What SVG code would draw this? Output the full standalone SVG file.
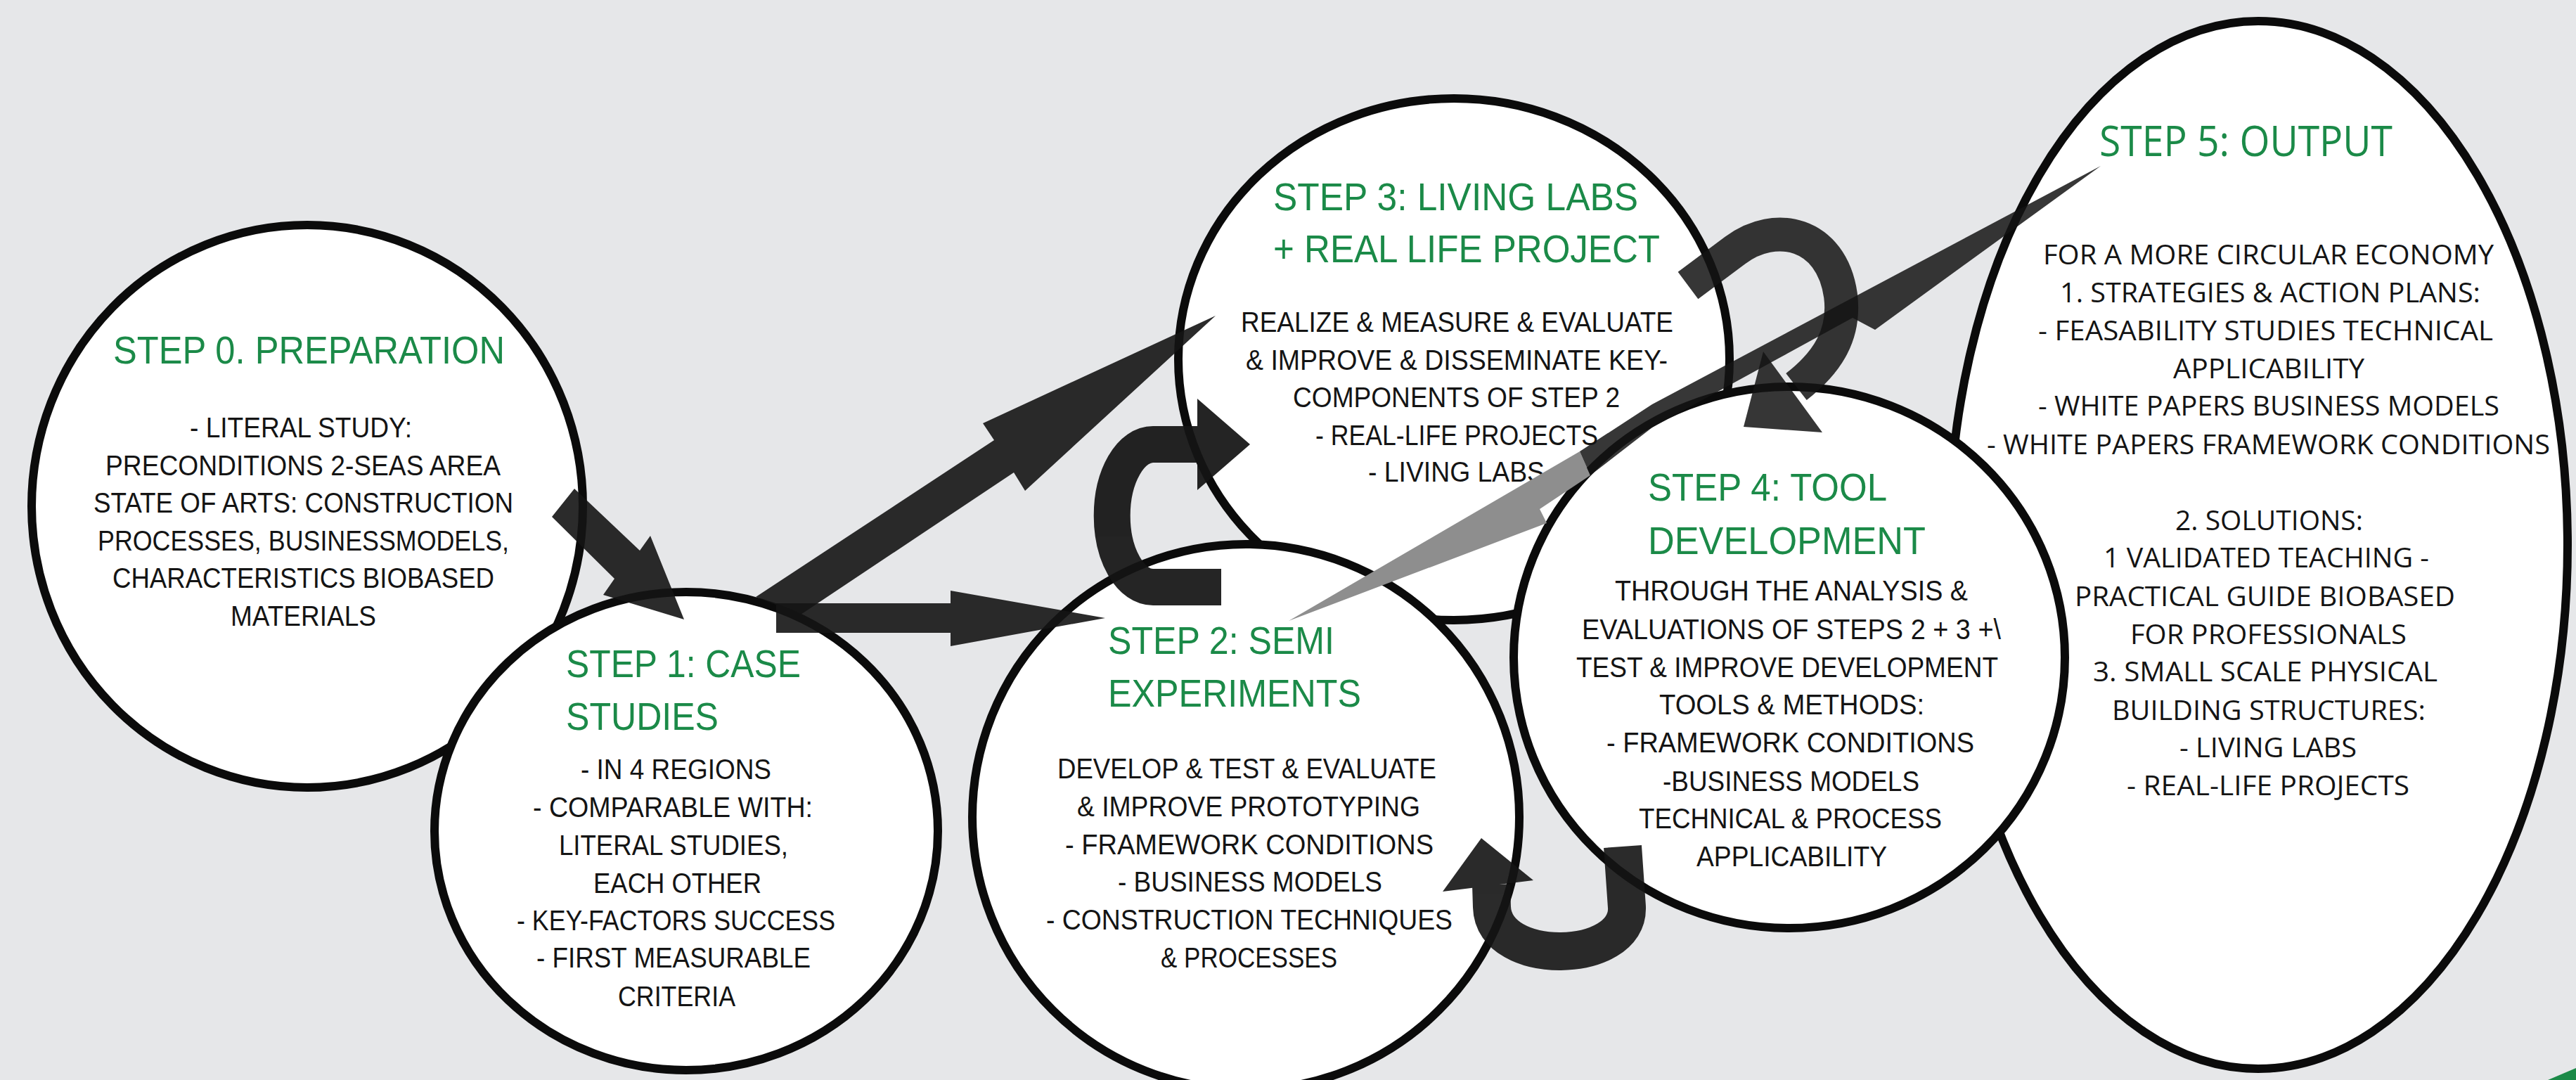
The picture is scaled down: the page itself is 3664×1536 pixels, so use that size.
<svg xmlns="http://www.w3.org/2000/svg" width="3664" height="1536" viewBox="0 0 3664 1536">
<style>
.node{fill:#ffffff;stroke:#0b0b0b;stroke-width:12}
.t{font-family:'Liberation Sans',Arial,sans-serif;fill:#1b8a48;font-size:55px}
.b{font-family:'Liberation Sans',Arial,sans-serif;fill:#141414;font-size:40px}
.t5{font-family:'Open Sans','Liberation Sans',sans-serif;fill:#1b8a48;font-size:60px}
.b5{font-family:'Open Sans','Liberation Sans',sans-serif;fill:#141414;font-size:39px}
.a{fill:#141414}
.as{fill:none;stroke:#141414}
</style>
<rect width="3664" height="1536" fill="#e6e7e9"/>
<polygon points="3624,1536 3664,1519 3664,1536" fill="#1b8a48"/>

<g id="step0">
<ellipse class="node" cx="437" cy="720" rx="392" ry="400"/>
<text class="t" x="161" y="517" textLength="557" lengthAdjust="spacingAndGlyphs">STEP 0. PREPARATION</text>
<text class="b" x="270" y="622" textLength="316" lengthAdjust="spacingAndGlyphs">- LITERAL STUDY:</text>
<text class="b" x="150" y="676" textLength="562" lengthAdjust="spacingAndGlyphs">PRECONDITIONS 2-SEAS AREA</text>
<text class="b" x="133" y="729" textLength="597" lengthAdjust="spacingAndGlyphs">STATE OF ARTS: CONSTRUCTION</text>
<text class="b" x="139" y="783" textLength="585" lengthAdjust="spacingAndGlyphs">PROCESSES, BUSINESSMODELS,</text>
<text class="b" x="160" y="836" textLength="543" lengthAdjust="spacingAndGlyphs">CHARACTERISTICS BIOBASED</text>
<text class="b" x="328" y="890" textLength="207" lengthAdjust="spacingAndGlyphs">MATERIALS</text>
</g>

<g id="step1">
<ellipse class="node" cx="976" cy="1182" rx="358" ry="340"/>
<text class="t" x="805" y="963" textLength="334" lengthAdjust="spacingAndGlyphs">STEP 1: CASE</text>
<text class="t" x="805" y="1038" textLength="217" lengthAdjust="spacingAndGlyphs">STUDIES</text>
<text class="b" x="826" y="1108" textLength="271" lengthAdjust="spacingAndGlyphs">- IN 4 REGIONS</text>
<text class="b" x="758" y="1162" textLength="398" lengthAdjust="spacingAndGlyphs">- COMPARABLE WITH:</text>
<text class="b" x="795" y="1216" textLength="326" lengthAdjust="spacingAndGlyphs">LITERAL STUDIES,</text>
<text class="b" x="844" y="1270" textLength="239" lengthAdjust="spacingAndGlyphs">EACH OTHER</text>
<text class="b" x="735" y="1323" textLength="453" lengthAdjust="spacingAndGlyphs">- KEY-FACTORS SUCCESS</text>
<text class="b" x="763" y="1376" textLength="390" lengthAdjust="spacingAndGlyphs">- FIRST MEASURABLE</text>
<text class="b" x="879" y="1431" textLength="167" lengthAdjust="spacingAndGlyphs">CRITERIA</text>
</g>

<g id="step5">
<ellipse class="node" cx="3212" cy="775" rx="440" ry="745"/>
<text class="t5" x="2986" y="222" textLength="417" lengthAdjust="spacingAndGlyphs">STEP 5: OUTPUT</text>
<text class="b5" x="2906" y="376" textLength="641" lengthAdjust="spacingAndGlyphs">FOR A MORE CIRCULAR ECONOMY</text>
<text class="b5" x="2930" y="430" textLength="598" lengthAdjust="spacingAndGlyphs">1. STRATEGIES &amp; ACTION PLANS:</text>
<text class="b5" x="2899" y="484" textLength="647" lengthAdjust="spacingAndGlyphs">- FEASABILITY STUDIES TECHNICAL</text>
<text class="b5" x="3091" y="538" textLength="272" lengthAdjust="spacingAndGlyphs">APPLICABILITY</text>
<text class="b5" x="2899" y="591" textLength="656" lengthAdjust="spacingAndGlyphs">- WHITE PAPERS BUSINESS MODELS</text>
<text class="b5" x="2826" y="646" textLength="801" lengthAdjust="spacingAndGlyphs">- WHITE PAPERS FRAMEWORK CONDITIONS</text>
<text class="b5" x="3094" y="754" textLength="267" lengthAdjust="spacingAndGlyphs">2. SOLUTIONS:</text>
<text class="b5" x="2992" y="807" textLength="463" lengthAdjust="spacingAndGlyphs">1 VALIDATED TEACHING -</text>
<text class="b5" x="2951" y="862" textLength="541" lengthAdjust="spacingAndGlyphs">PRACTICAL GUIDE BIOBASED</text>
<text class="b5" x="3030" y="916" textLength="393" lengthAdjust="spacingAndGlyphs">FOR PROFESSIONALS</text>
<text class="b5" x="2977" y="969" textLength="490" lengthAdjust="spacingAndGlyphs">3. SMALL SCALE PHYSICAL</text>
<text class="b5" x="3004" y="1024" textLength="446" lengthAdjust="spacingAndGlyphs">BUILDING STRUCTURES:</text>
<text class="b5" x="3100" y="1077" textLength="252" lengthAdjust="spacingAndGlyphs">- LIVING LABS</text>
<text class="b5" x="3025" y="1131" textLength="402" lengthAdjust="spacingAndGlyphs">- REAL-LIFE PROJECTS</text>
</g>

<g id="step3">
<ellipse class="node" cx="2068" cy="511" rx="392" ry="371"/>
<text class="t" x="1811" y="299" textLength="519" lengthAdjust="spacingAndGlyphs">STEP 3: LIVING LABS</text>
<text class="t" x="1811" y="373" textLength="550" lengthAdjust="spacingAndGlyphs">+ REAL LIFE PROJECT</text>
<text class="b" x="1765" y="472" textLength="615" lengthAdjust="spacingAndGlyphs">REALIZE &amp; MEASURE &amp; EVALUATE</text>
<text class="b" x="1772" y="526" textLength="600" lengthAdjust="spacingAndGlyphs">&amp; IMPROVE &amp; DISSEMINATE KEY-</text>
<text class="b" x="1839" y="579" textLength="465" lengthAdjust="spacingAndGlyphs">COMPONENTS OF STEP 2</text>
<text class="b" x="1871" y="633" textLength="402" lengthAdjust="spacingAndGlyphs">- REAL-LIFE PROJECTS</text>
<text class="b" x="1946" y="685" textLength="251" lengthAdjust="spacingAndGlyphs">- LIVING LABS</text>
</g>

<g id="step2">
<ellipse class="node" cx="1772" cy="1162" rx="389" ry="388"/>
<text class="t" x="1576" y="930" textLength="322" lengthAdjust="spacingAndGlyphs">STEP 2: SEMI</text>
<text class="t" x="1576" y="1005" textLength="360" lengthAdjust="spacingAndGlyphs">EXPERIMENTS</text>
<text class="b" x="1504" y="1107" textLength="539" lengthAdjust="spacingAndGlyphs">DEVELOP &amp; TEST &amp; EVALUATE</text>
<text class="b" x="1532" y="1161" textLength="488" lengthAdjust="spacingAndGlyphs">&amp; IMPROVE PROTOTYPING</text>
<text class="b" x="1515" y="1215" textLength="524" lengthAdjust="spacingAndGlyphs">- FRAMEWORK CONDITIONS</text>
<text class="b" x="1590" y="1268" textLength="376" lengthAdjust="spacingAndGlyphs">- BUSINESS MODELS</text>
<text class="b" x="1488" y="1322" textLength="578" lengthAdjust="spacingAndGlyphs">- CONSTRUCTION TECHNIQUES</text>
<text class="b" x="1651" y="1376" textLength="251" lengthAdjust="spacingAndGlyphs">&amp; PROCESSES</text>
</g>

<g id="step4">
<ellipse class="node" cx="2545" cy="935" rx="392" ry="385"/>
<text class="t" x="2344" y="712" textLength="340" lengthAdjust="spacingAndGlyphs">STEP 4: TOOL</text>
<text class="t" x="2344" y="788" textLength="395" lengthAdjust="spacingAndGlyphs">DEVELOPMENT</text>
<text class="b" x="2297" y="854" textLength="502" lengthAdjust="spacingAndGlyphs">THROUGH THE ANALYSIS &amp;</text>
<text class="b" x="2250" y="909" textLength="596" lengthAdjust="spacingAndGlyphs">EVALUATIONS OF STEPS 2 + 3 +\</text>
<text class="b" x="2242" y="963" textLength="600" lengthAdjust="spacingAndGlyphs">TEST &amp; IMPROVE DEVELOPMENT</text>
<text class="b" x="2360" y="1016" textLength="377" lengthAdjust="spacingAndGlyphs">TOOLS &amp; METHODS:</text>
<text class="b" x="2285" y="1070" textLength="523" lengthAdjust="spacingAndGlyphs">- FRAMEWORK CONDITIONS</text>
<text class="b" x="2365" y="1125" textLength="365" lengthAdjust="spacingAndGlyphs">-BUSINESS MODELS</text>
<text class="b" x="2331" y="1178" textLength="431" lengthAdjust="spacingAndGlyphs">TECHNICAL &amp; PROCESS</text>
<text class="b" x="2413" y="1232" textLength="271" lengthAdjust="spacingAndGlyphs">APPLICABILITY</text>
</g>

<g id="connectors">
<g id="a0-1" opacity="0.9"><polygon class="a" points="817,695 910,783 925,762 973,881 858,846 874,823 785,735"/></g>
<g id="a1-3" opacity="0.9"><polygon class="a" points="1075,849 1414,626 1398,602 1729,449 1458,698 1442,672 1139,874"/></g>
<g id="a1-2" opacity="0.9"><polygon class="a" points="1104,858 1352,858 1352,840 1572,879 1352,919 1352,900 1104,900"/></g>
<g id="a2-3" opacity="0.93"><path class="as" stroke-width="52" d="M1737 835 L1640 835 A58 101 0 0 1 1640 632 L1706 632"/><polygon class="a" points="1703,567 1778,632 1703,697"/></g>
<g id="a3-4" opacity="0.85"><path class="as" stroke-width="48" d="M2401 406 L2468 356 C2525 313 2605 330 2618 420 C2625 475 2600 515 2555 550"/><polygon class="a" points="2508,500 2592,615 2480,607"/></g>
<g id="a4-2" opacity="0.9"><path class="as" stroke-width="54" d="M2308 1204 L2314 1290 C2318 1372 2124 1376 2122 1290 L2121 1258"/><polygon class="a" points="2052,1268 2107,1192 2181,1252"/></g>
<g id="a-gray"><polygon fill="#8e8e8e" points="2247,642 2262,676 2190,724 2200,744 1833,883"/></g>
<g id="a-5" opacity="0.85"><polygon class="a" points="2247,642 2350,575 2988,236 2667,469 2635,452 2350,608 2262,676"/></g>
</g>
</svg>
